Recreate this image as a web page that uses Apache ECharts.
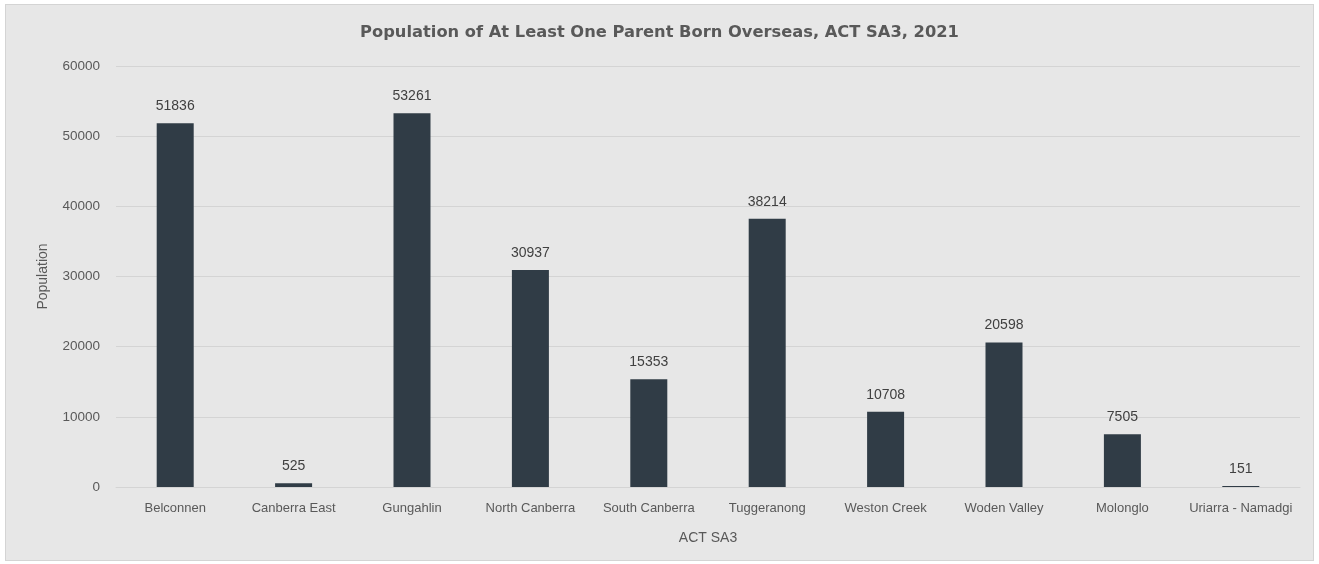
<!DOCTYPE html>
<html><head><meta charset="utf-8">
<script src="https://cdn.jsdelivr.net/npm/echarts@6/dist/echarts.min.js"></script>
<style>
html,body{margin:0;padding:0;background:#ffffff;}
#frame{position:absolute;left:5px;top:4px;width:1307px;height:555px;border:1px solid #d4d4d4;background:#e7e7e7;}
#c{width:1307px;height:555px;}
</style></head>
<body><div id="frame"><div id="c"></div></div>
<script>
const categories = ["Belconnen","Canberra East","Gungahlin","North Canberra","South Canberra","Tuggeranong","Weston Creek","Woden Valley","Molonglo","Uriarra - Namadgi"];
const values = [51836,525,53261,30937,15353,38214,10708,20598,7505,151];
const yTicks = [0,10000,20000,30000,40000,50000,60000];

const chart = echarts.init(document.getElementById('c'), null, {renderer:'canvas'});
chart.setOption({
  backgroundColor:'#e7e7e7',
  animation:false,
  title:{text:'Population of At Least One Parent Born Overseas, ACT SA3, 2021',left:'center',top:15,
    textStyle:{fontFamily:'DejaVu Sans',fontWeight:'bold',fontSize:16.3,color:'#595959'}},
  grid:{left:110,right:13,top:61,bottom:73},
  xAxis:{type:'category',data:categories,name:'ACT SA3',nameLocation:'middle',nameGap:44,
    nameTextStyle:{fontFamily:'Liberation Sans',fontSize:14,color:'#595959'},
    axisLine:{show:true,lineStyle:{color:'#d4d4d4'}},axisTick:{show:false},
    axisLabel:{fontFamily:'Liberation Sans',fontSize:13,color:'#595959',margin:15,interval:0}},
  yAxis:{type:'value',min:yTicks[0],max:yTicks[yTicks.length-1],interval:10000,
    name:'Population',nameLocation:'middle',nameGap:66,nameRotate:90,
    nameTextStyle:{fontFamily:'Liberation Sans',fontSize:14,color:'#595959'},
    axisLine:{show:false},axisTick:{show:false},
    axisLabel:{fontFamily:'Liberation Sans',fontSize:13.5,color:'#595959',margin:16,formatter:v=>String(v)},
    splitLine:{lineStyle:{color:'#d4d4d4',width:1}}},
  series:[{type:'bar',data:values,barWidth:37,itemStyle:{color:'#303c46'},
    label:{show:true,position:'top',distance:10,fontFamily:'Liberation Sans',fontSize:14,color:'#404040'}}]
});
</script></body></html>
